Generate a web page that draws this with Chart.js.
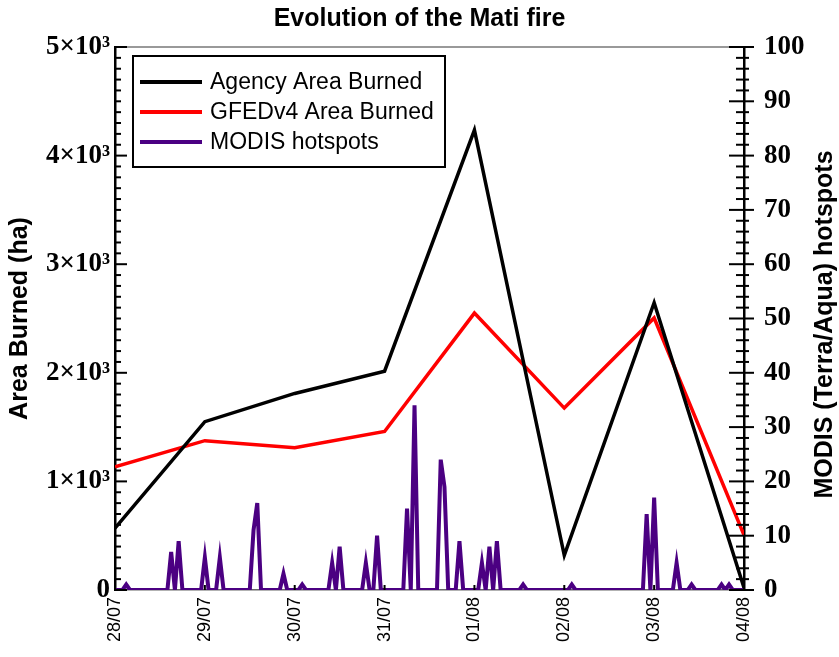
<!DOCTYPE html>
<html>
<head>
<meta charset="utf-8">
<script src="https://cdn.jsdelivr.net/npm/chart.js@4.4.1/dist/chart.umd.min.js"></script>
<style>
html, body { margin: 0; padding: 0; background: #fff; }
#wrap { width: 839px; height: 657px; }
</style>
</head>
<body>
<div id="wrap"><canvas id="mycanvas"></canvas></div>
<script>
// days on the x axis (x = days since 28/07 00:00)
var dayLabels = ['28/07', '29/07', '30/07', '31/07', '01/08', '02/08', '03/08', '04/08'];
var agencyArea = [570, 1550, 1810, 2015, 4235, 320, 2645, 20];
var gfedArea = [1135, 1375, 1310, 1460, 2550, 1675, 2505, 505];

// hourly hotspot counts, hours since 28/07 00:00 (all other hours are 0)
var hotspotHours = [3, 15, 17, 24, 28, 37, 38, 45, 50, 58, 60, 67, 70, 78, 80, 87, 88, 92, 98, 100, 102, 109, 122, 142, 144, 150, 154, 162, 164];
var hotspotCounts = [1, 7, 9, 6, 6, 11, 16, 3, 1, 5, 8, 5, 10, 15, 34, 24, 19, 9, 5, 8, 9, 1, 1, 14, 17, 5, 1, 1, 1];

var agencyPts = [], gfedPts = [], hotspotPts = [];
for (var i = 0; i < dayLabels.length; i++) {
	agencyPts.push({x: i, y: agencyArea[i]});
	gfedPts.push({x: i, y: gfedArea[i]});
}
for (var h = 0; h <= 168; h++) {
	var k = hotspotHours.indexOf(h);
	hotspotPts.push({x: h / 24, y: k >= 0 ? hotspotCounts[k] : 0});
}

/* ticks, frame, right title and legend box */
var extras = {
	id: 'extras',
	afterDraw: function(chart) {
		var ctx = chart.ctx, a = chart.chartArea;
		var sx = chart.scales.x, sy = chart.scales.y, sy2 = chart.scales.y2;
		function seg(x1, y1, x2, y2) {
			ctx.beginPath(); ctx.moveTo(x1, y1); ctx.lineTo(x2, y2); ctx.stroke();
		}
		ctx.save();
		ctx.strokeStyle = '#777'; ctx.lineWidth = 1.5;
		seg(a.left, a.top, a.right, a.top);

		ctx.strokeStyle = '#000'; ctx.lineWidth = 2;
		for (var v = 0; v <= 5000; v += 100) {
			var py = sy.getPixelForValue(v);
			seg(a.left, py, a.left + (v % 1000 === 0 ? 12 : 6), py);
		}
		for (v = 0; v <= 100; v += 2) {
			py = sy2.getPixelForValue(v);
			var major = v % 10 === 0;
			seg(a.right - (major ? 15 : 8), py, a.right + (major ? 10 : 5), py);
		}
		for (var d = 0; d < dayLabels.length; d++) {
			var px = sx.getPixelForValue(d);
			seg(px, a.bottom, px, a.bottom - 5);
		}

		// right axis title, reading bottom to top
		ctx.save();
		ctx.translate(825, (a.top + a.bottom) / 2 + 6);
		ctx.rotate(-Math.PI / 2);
		ctx.fillStyle = '#000';
		ctx.font = 'bold 25px "Liberation Sans"';
		ctx.textAlign = 'center'; ctx.textBaseline = 'middle';
		ctx.fillText('MODIS (Terra/Aqua) hotspots', 0, 0);
		ctx.restore();

		// legend
		ctx.lineWidth = 2; ctx.strokeStyle = '#000';
		ctx.strokeRect(133, 56, 312, 111);
		ctx.font = '23px "Liberation Sans"';
		ctx.textAlign = 'left'; ctx.textBaseline = 'middle';
		var rows = [82, 112, 142];
		chart.data.datasets.forEach(function(ds, j) {
			ctx.strokeStyle = ds.borderColor; ctx.lineWidth = 4;
			seg(140, rows[j], 202, rows[j]);
			ctx.fillStyle = '#000';
			ctx.fillText(ds.label, 210, rows[j] + 1);
		});
		ctx.restore();
	}
};

var ctx = document.getElementById('mycanvas');
var fireChart = new Chart(ctx, {
	type: 'line',
	data: {
		datasets: [
			{
				label: 'Agency Area Burned',
				data: agencyPts,
				borderColor: '#000000',
				borderWidth: 3.5,
				pointRadius: 0,
				yAxisID: 'y'
			},
			{
				label: 'GFEDv4 Area Burned',
				data: gfedPts,
				borderColor: '#ff0000',
				borderWidth: 3.5,
				pointRadius: 0,
				yAxisID: 'y'
			},
			{
				label: 'MODIS hotspots',
				data: hotspotPts,
				borderColor: '#4b0082',
				borderWidth: 4,
				pointRadius: 0,
				yAxisID: 'y2'
			}
		]
	},
	options: {
		responsive: true,
		maintainAspectRatio: false,
		animation: false,
		devicePixelRatio: 1,
		layout: { padding: 0 },
		plugins: {
			legend: { display: false },
			tooltip: { enabled: false },
			title: {
				display: true,
				text: 'Evolution of the Mati fire',
				color: '#000',
				font: { family: 'Liberation Sans', size: 25, weight: 'bold' },
				padding: { top: 4, bottom: 13 }
			}
		},
		scales: {
			x: {
				type: 'linear',
				min: 0,
				max: 7,
				afterFit: function(s) { s.height = 67; },
				grid: { display: false, drawTicks: false },
				border: { display: true, color: '#666', width: 1.5 },
				ticks: {
					stepSize: 1,
					autoSkip: false,
					maxRotation: 90,
					minRotation: 90,
					padding: 7,
					color: '#000',
					font: { family: 'Liberation Sans', size: 18 },
					callback: function(v) { return dayLabels[v]; }
				}
			},
			y: {
				position: 'left',
				min: 0,
				max: 5000,
				afterFit: function(s) { s.width = 115; },
				grid: { display: false, drawTicks: false },
				border: { display: true, color: '#000', width: 2.5 },
				ticks: {
					stepSize: 1000,
					padding: 5,
					color: '#000',
					font: { family: 'Liberation Serif', size: 27, weight: 'bold' },
					callback: function(v) { return v === 0 ? '0' : (v / 1000) + '×10³'; }
				},
				title: {
					display: true,
					text: 'Area Burned (ha)',
					color: '#000',
					font: { family: 'Liberation Sans', size: 25, weight: 'bold' },
					padding: { top: 5, bottom: 0 }
				}
			},
			y2: {
				position: 'right',
				min: 0,
				max: 100,
				afterFit: function(s) { s.width = 95; },
				grid: { display: false, drawTicks: false },
				border: { display: true, color: '#000', width: 2.5 },
				ticks: {
					stepSize: 10,
					padding: 20,
					color: '#000',
					font: { family: 'Liberation Serif', size: 27, weight: 'bold' }
				}
			}
		}
	},
	plugins: [extras]
});
</script>
</body>
</html>
